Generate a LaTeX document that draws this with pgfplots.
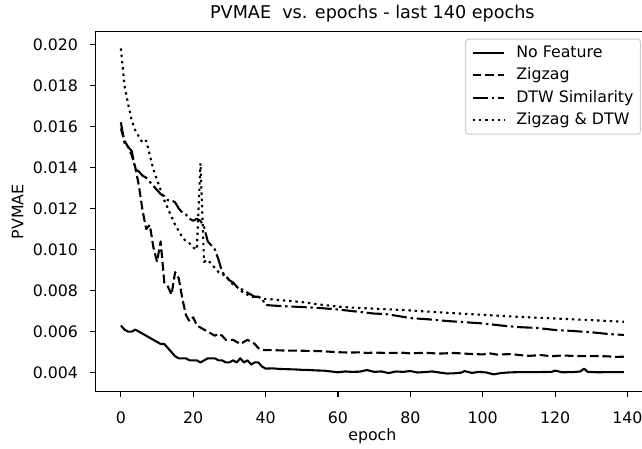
\documentclass[border=0pt]{standalone}
\usepackage{fontspec}
\setmainfont{DejaVu Sans}
\usepackage{pgfplots}
\pgfplotsset{compat=1.18}

\pgfplotstableread{
e v
0 0.0063
1 0.0061
2 0.0060
3 0.0060
4 0.0061
5 0.0060
6 0.0059
7 0.0058
8 0.0057
9 0.0056
10 0.0055
11 0.0054
12 0.0054
13 0.0052
14 0.0050
15 0.0048
16 0.0047
17 0.0047
18 0.0047
19 0.0046
20 0.0046
21 0.0046
22 0.0045
23 0.0046
24 0.0047
25 0.0047
26 0.0047
27 0.0046
28 0.0046
29 0.0045
30 0.0045
31 0.0046
32 0.0045
33 0.0047
34 0.0045
35 0.0046
36 0.0044
37 0.0045
38 0.0045
39 0.0043
40 0.0042
42 0.00421
44 0.00418
46 0.00417
48 0.00416
50 0.00414
52 0.00413
54 0.00411
56 0.00410
58 0.00406
60 0.00402
62 0.00406
64 0.00404
66 0.00405
68 0.00413
70 0.00404
72 0.00406
74 0.00398
76 0.00406
78 0.00404
80 0.00408
82 0.00401
84 0.00403
86 0.00406
88 0.00401
90 0.00396
92 0.00397
94 0.00400
95 0.00408
97 0.00399
99 0.00404
101 0.00401
103 0.00392
105 0.00398
107 0.00401
110 0.00403
113 0.00403
116 0.00403
119 0.00404
120 0.00410
122 0.00402
125 0.00403
127 0.00406
128 0.00420
129 0.00404
132 0.00402
135 0.00403
137 0.00403
139 0.00403
}\nofeature

\pgfplotstableread{
e v
0 0.0159
1 0.0153
2 0.0150
3 0.0146
4 0.0140
5 0.0131
6 0.0119
7 0.0110
8 0.0112
9 0.0101
10 0.0094
11 0.0104
12 0.0084
13 0.0082
14 0.0078
15 0.0089
16 0.0086
17 0.0076
18 0.0068
19 0.0065
20 0.0067
21 0.0063
22 0.0062
23 0.0061
24 0.0060
25 0.0059
26 0.0058
27 0.0059
28 0.0058
29 0.0056
30 0.0056
31 0.0056
32 0.0055
33 0.0054
34 0.0055
35 0.0056
36 0.0055
37 0.0054
38 0.0052
39 0.0051
40 0.0051
42 0.00510
45 0.00508
50 0.00507
55 0.00505
60 0.00500
63 0.00498
66 0.00499
68 0.00496
70 0.00498
74 0.00496
78 0.00497
80 0.00494
84 0.00497
88 0.00493
92 0.00496
96 0.00492
100 0.00489
102 0.00494
104 0.00488
108 0.00491
110 0.00486
113 0.00482
116 0.00486
119 0.00480
122 0.00484
126 0.00481
130 0.00481
134 0.00480
137 0.00477
139 0.00478
}\zigzag

\pgfplotstableread{
e v
0 0.0162
1 0.0152
2 0.0150
3 0.0148
4 0.0139
5 0.0138
6 0.0136
7 0.0135
8 0.0133
9 0.0131
10 0.0129
11 0.0127
12 0.0126
13 0.0124
14 0.0124
15 0.0123
16 0.0120
17 0.0118
18 0.0117
19 0.0115
20 0.0114
21 0.0115
22 0.0114
23 0.0111
24 0.0104
25 0.0102
26 0.0100
27 0.0095
28 0.0089
29 0.0087
30 0.0085
31 0.0084
32 0.0082
33 0.0081
34 0.0080
35 0.0079
36 0.0078
37 0.0077
38 0.0077
39 0.0076
40 0.0073
42 0.00727
45 0.00724
50 0.00720
55 0.00715
60 0.00708
65 0.00698
70 0.00688
73 0.00686
76 0.00678
80 0.00666
85 0.00660
90 0.00652
95 0.00646
100 0.00640
105 0.00630
110 0.00622
115 0.00618
120 0.00608
125 0.00603
130 0.00597
135 0.00588
139 0.00584
}\dtw

\pgfplotstableread{
e v
0 0.0198
1 0.0180
2 0.0171
3 0.0163
4 0.0158
5 0.0155
6 0.0152
7 0.0153
8 0.0146
9 0.0139
10 0.0134
11 0.0129
12 0.0124
13 0.0120
14 0.0116
15 0.0112
16 0.0109
17 0.0106
18 0.0104
19 0.0103
20 0.0101
21 0.0100
22 0.0142
23 0.0094
24 0.0095
25 0.0093
26 0.0091
27 0.0089
28 0.0088
29 0.0087
30 0.0085
31 0.0083
32 0.0082
33 0.0080
34 0.0079
35 0.0078
36 0.0077
37 0.0077
38 0.0077
39 0.0076
40 0.00760
45 0.00752
50 0.00744
55 0.00732
60 0.00722
65 0.00716
70 0.00712
75 0.00708
80 0.00703
90 0.00692
100 0.00682
110 0.00672
120 0.00664
130 0.00656
139 0.00648
}\both

\begin{document}
\begin{tikzpicture}
\begin{axis}[
    at={(95.7pt,57.3pt)}, anchor=south west,
    scale only axis, width=553.3pt, height=360pt,
    xmin=-6.95, xmax=145.95, ymin=0.003074, ymax=0.020614,
    xtick={0,20,40,60,80,100,120,140},
    ytick={0.004,0.006,0.008,0.010,0.012,0.014,0.016,0.018,0.020},
    scaled y ticks=false,
    /pgf/number format/assume math mode=true,
    yticklabel style={/pgf/number format/.cd, fixed, fixed zerofill, precision=3, /tikz/.cd,
        anchor=east, inner sep=0pt, xshift=-12pt},
    xticklabel style={anchor=base, inner sep=0pt, yshift=-26.5pt},
    tick label style={font=\fontsize{15.8}{19}\selectfont},
    tick align=outside, xtick pos=bottom, ytick pos=left,
    major tick length=5.5pt,
    every tick/.append style={black, line width=1.2pt},
    axis line style={line width=1.2pt},
    title={PVMAE\ \ vs. epochs - last 140 epochs},
    title style={font=\fontsize{17.6}{21}\selectfont, at={(axis description cs:0.5,1.0205)}, anchor=base, inner sep=0pt},
    xlabel={epoch},
    xlabel style={font=\fontsize{15.8}{19}\selectfont, at={(axis description cs:0.5,-0.1342)}, anchor=base, inner sep=0pt},
    ylabel={PVMAE},
    ylabel style={font=\fontsize{15.8}{19}\selectfont, at={(axis description cs:-0.1413,0.5)}, anchor=center, inner sep=0pt},
    legend style={at={(axis description cs:0.9855,0.9806)}, anchor=north east,
        draw=black!20, line width=1pt, rounded corners=3pt, fill=white,
        font=\fontsize{15.8}{19}\selectfont, inner xsep=6pt, inner ysep=5pt,
        row sep=5pt, column sep=10pt,
        nodes={inner sep=1pt, text height=12pt, text depth=3.5pt}},
    legend cell align=left,
    legend image code/.code={\draw[#1] (0pt,0pt) -- (31.6pt,0pt);},
    every axis plot/.append style={black, line width=2.1pt, line join=round},
]
\addplot[solid, no marks] table[x=e, y=v] {\nofeature};
\addlegendentry{No Feature}
\addplot[no marks, dash pattern=on 8.8pt off 3.8pt] table[x=e, y=v] {\zigzag};
\addlegendentry{Zigzag}
\addplot[no marks, dash pattern=on 15.2pt off 3.8pt on 2.4pt off 3.8pt] table[x=e, y=v] {\dtw};
\addlegendentry{DTW Similarity}
\addplot[no marks, dash pattern=on 2.4pt off 3.9pt] table[x=e, y=v] {\both};
\addlegendentry{Zigzag \& DTW}
\end{axis}
\pgfresetboundingbox
\useasboundingbox (0pt,0pt) rectangle (642pt,449pt);
\end{tikzpicture}
\end{document}
